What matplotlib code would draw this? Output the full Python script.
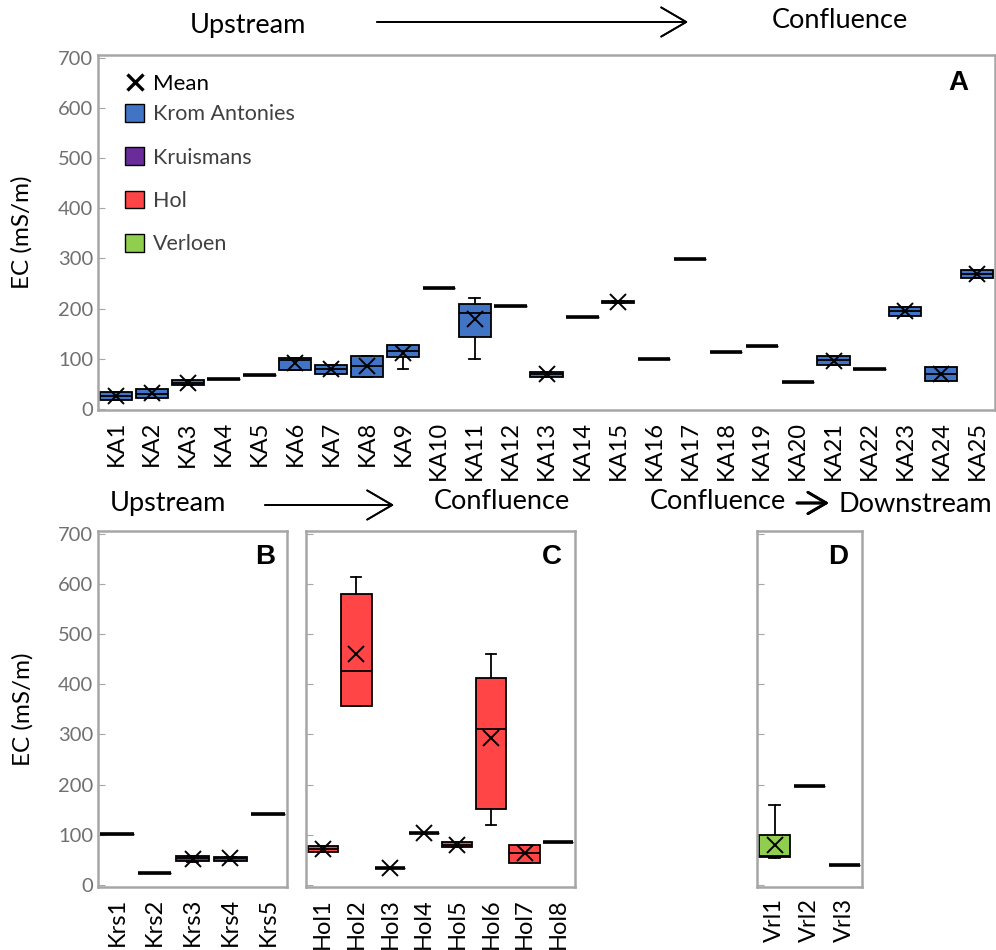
import numpy as np
import matplotlib
matplotlib.use("Agg")
import matplotlib.pyplot as plt
from matplotlib.lines import Line2D
from matplotlib.patches import Patch

plt.rcParams['font.family'] = ['Lato', 'DejaVu Sans']

nan = np.nan

# Krom Antonies (panel A)
ka_labels = ["KA%d" % i for i in range(1, 26)]
ka_q1   = [18, 22, 47, 60, 68, 78, 70, 64, 104, 240, 143, 206, 64, 183, 211, 100, 298, 113, 126, 54, 88, 80, 186, 55, 261]
ka_med  = [25, 30, 52, 60, 68, 97, 80, 86, 116, 240, 191, 206, 70, 183, 213, 100, 298, 113, 126, 54, 97, 80, 195, 70, 269]
ka_q3   = [33, 40, 57, 60, 68, 102, 88, 106, 128, 240, 209, 206, 74, 183, 215, 100, 298, 113, 126, 54, 106, 80, 204, 84, 277]
ka_lo   = [18, 22, 47, 60, 68, 78, 70, 64, 80, 240, 100, 206, 64, 183, 211, 100, 298, 113, 126, 54, 88, 80, 186, 55, 261]
ka_hi   = [33, 40, 57, 60, 68, 102, 88, 106, 128, 240, 221, 206, 74, 183, 215, 100, 298, 113, 126, 54, 106, 80, 204, 84, 277]
ka_mean = [25, 31, 52, nan, nan, 92, 80, 85, 112, nan, 179, nan, 70, nan, 213, nan, nan, nan, nan, nan, 96, nan, 195, 70, 269]

# Kruismans (panel B)
krs_labels = ["Krs1", "Krs2", "Krs3", "Krs4", "Krs5"]
krs_q1   = [102, 24, 48, 48, 141]
krs_med  = [102, 24, 53, 53, 141]
krs_q3   = [102, 24, 57, 56, 141]
krs_lo   = [102, 24, 45, 48, 141]
krs_hi   = [102, 24, 57, 56, 141]
krs_mean = [nan, nan, 52, 53, nan]

# Hol (panel C)
hol_labels = ["Hol%d" % i for i in range(1, 9)]
hol_q1   = [65, 357, 33, 103, 76, 151, 44, 85]
hol_med  = [72, 426, 33, 103, 80, 310, 64, 85]
hol_q3   = [78, 580, 33, 103, 85, 413, 80, 85]
hol_lo   = [65, 357, 33, 103, 76, 119, 44, 85]
hol_hi   = [78, 614, 33, 103, 85, 460, 80, 85]
hol_mean = [72, 460, 33, 103, 80, 293, 63, nan]

# Verloen (panel D)
vrl_labels = ["Vrl1", "Vrl2", "Vrl3"]
vrl_q1   = [56, 198, 40]
vrl_med  = [58, 198, 40]
vrl_q3   = [99, 198, 40]
vrl_lo   = [54, 198, 40]
vrl_hi   = [160, 198, 40]
vrl_mean = [80, nan, nan]

blue = "#4274c6"
purple = "#6a2c9a"
red = "#ff4545"
green = "#8fce4e"
frame = "#a6a6a6"
W, H = 996, 950


def px_ax(fig, x0, y0, x1, y1):
    return fig.add_axes([x0 / W, 1 - y1 / H, (x1 - x0) / W, (y1 - y0) / H])


def draw_panel(ax, labels, q1, med, q3, lo, hi, mean, color, width, ylim):
    n = len(labels)
    pos = np.arange(1, n + 1)
    stats = []
    for i in range(n):
        stats.append(dict(q1=q1[i], med=med[i], q3=q3[i], whislo=lo[i], whishi=hi[i], label=labels[i]))
    flat = [i for i in range(n) if q1[i] == q3[i]]
    full = [i for i in range(n) if q1[i] != q3[i]]
    if full:
        ax.bxp([stats[i] for i in full], positions=pos[full], widths=width, patch_artist=True,
               showfliers=False, manage_ticks=False, capwidths=0.3,
               boxprops=dict(facecolor=color, edgecolor="black", linewidth=1.3),
               medianprops=dict(color="black", linewidth=1.3),
               whiskerprops=dict(color="black", linewidth=1.3),
               capprops=dict(color="black", linewidth=1.3))
    if flat:
        ax.bxp([stats[i] for i in flat], positions=pos[flat], widths=width, patch_artist=True,
               showfliers=False, manage_ticks=False, capwidths=0.3,
               boxprops=dict(facecolor=color, edgecolor="black", linewidth=1.0),
               medianprops=dict(color="black", linewidth=2.6),
               whiskerprops=dict(color="black", linewidth=1.0),
               capprops=dict(color="none"))
    m = np.array(mean, dtype=float)
    ok = ~np.isnan(m)
    ax.plot(pos[ok], m[ok], ls="none", marker="x", color="black", ms=12, mew=1.4, zorder=5)
    ax.set_xlim(0.5, n + 0.5)
    ax.set_ylim(*ylim)
    ax.set_xticks(pos)
    ax.set_xticklabels(labels, rotation=90, fontsize=17, color="black")
    ax.set_yticks(range(0, 701, 100))
    ax.tick_params(axis="y", direction="in", length=5, color=frame, labelsize=14.5, labelcolor="#707070")
    ax.tick_params(axis="x", length=0, pad=8)
    for s in ax.spines.values():
        s.set_color(frame)
        s.set_linewidth(1.8)


fig = plt.figure(figsize=(W / 100, H / 100), dpi=100)

axA = px_ax(fig, 98, 55, 995, 410)
draw_panel(axA, ka_labels, ka_q1, ka_med, ka_q3, ka_lo, ka_hi, ka_mean, blue, 0.9, (-2, 705))
axA.set_ylabel("EC (mS/m)", fontsize=17.5)
axA.yaxis.set_label_coords(-0.073, 0.5)
axA.text(0.959, 0.921, "A", transform=axA.transAxes, ha="center", va="center",
         fontsize=20, fontweight="bold", family="Liberation Sans")

# legend: mean entry separate, series patches below
mean_leg = axA.legend([Line2D([], [], ls="none", marker="x", color="black", ms=11, mew=2.4)], ["Mean"],
                      loc="upper left", bbox_to_anchor=(0.008, 1.003), frameon=False,
                      fontsize=16, handlelength=0.9, handletextpad=0.35)
axA.add_artist(mean_leg)
handles = [Patch(facecolor=c, edgecolor="black") for c in (blue, purple, red, green)]
leg = axA.legend(handles, ["Krom Antonies", "Kruismans", "Hol", "Verloen"],
                 loc="upper left", bbox_to_anchor=(0.008, 0.917), frameon=False,
                 fontsize=15.5, handlelength=0.9, handleheight=0.9, handletextpad=0.4,
                 labelspacing=1.07)
for t in leg.get_texts():
    t.set_color("#404040")

axB = px_ax(fig, 98, 531, 287, 887)
draw_panel(axB, krs_labels, krs_q1, krs_med, krs_q3, krs_lo, krs_hi, krs_mean, purple, 0.88, (-4, 705))
axB.set_ylabel("EC (mS/m)", fontsize=17.5)
axB.yaxis.set_label_coords(-0.342, 0.5)
axB.text(0.884, 0.927, "B", transform=axB.transAxes, ha="center", va="center",
         fontsize=20, fontweight="bold", family="Liberation Sans")

axC = px_ax(fig, 306, 531, 575, 887)
draw_panel(axC, hol_labels, hol_q1, hol_med, hol_q3, hol_lo, hol_hi, hol_mean, red, 0.9, (-4, 705))
axC.tick_params(axis="y", labelleft=False)
axC.text(0.914, 0.927, "C", transform=axC.transAxes, ha="center", va="center",
         fontsize=20, fontweight="bold", family="Liberation Sans")

axD = px_ax(fig, 757, 531, 862, 887)
draw_panel(axD, vrl_labels, vrl_q1, vrl_med, vrl_q3, vrl_lo, vrl_hi, vrl_mean, green, 0.86, (-4, 705))
axD.tick_params(axis="y", labelleft=False)
axD.text(0.77, 0.927, "D", transform=axD.transAxes, ha="center", va="center",
         fontsize=20, fontweight="bold", family="Liberation Sans")


def ftext(x, y, s):
    fig.text(x / W, 1 - y / H, s, ha="center", va="center", fontsize=19.5)


def farrow(x0, x1, y, lw=1.3, ms=30, style="->,head_length=0.6,head_width=0.35"):
    fig.add_artist(plt.annotate("", xy=(x1 / W, 1 - y / H), xytext=(x0 / W, 1 - y / H),
                                xycoords="figure fraction",
                                arrowprops=dict(arrowstyle=style, lw=lw, color="black",
                                                mutation_scale=ms, shrinkA=0, shrinkB=0)))


ftext(248, 25, "Upstream")
ftext(840, 20, "Confluence")
farrow(377, 688, 22)
ftext(168, 504, "Upstream")
ftext(502, 502, "Confluence")
farrow(265, 394, 505)
ftext(718, 502, "Confluence")
ftext(915, 504, "Downstream")
farrow(797, 829, 503, lw=2.0, ms=22)

fig.savefig("out.png", dpi=100)
